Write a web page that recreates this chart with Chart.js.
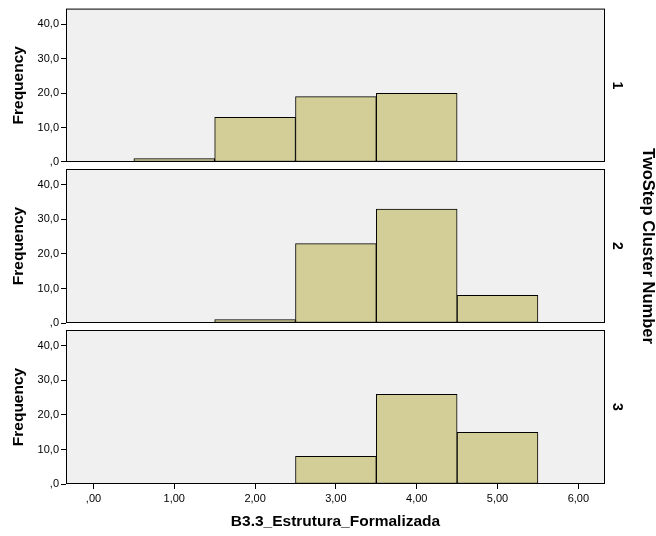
<!DOCTYPE html>
<html>
<head>
<meta charset="utf-8">
<script src="https://cdn.jsdelivr.net/npm/chart.js@4/dist/chart.umd.min.js"></script>
<style>
  html, body { margin: 0; padding: 0; background: #ffffff; }
  #wrap { position: relative; width: 656px; height: 536px; }
  #wrap canvas { position: absolute; left: 0; top: 0; }
</style>
</head>
<body>
<div id="wrap">
  <canvas id="p1" width="656" height="536"></canvas>
  <canvas id="p2" width="656" height="536"></canvas>
  <canvas id="p3" width="656" height="536"></canvas>
</div>
<script>
// Histogram bins of B3.3_Estrutura_Formalizada (bin centres, width 1)
const binCenters = [1, 2, 3, 4, 5];
// Frequencies per TwoStep cluster (null = empty bin)
const cluster1 = [1, 13, 19, 20, null];
const cluster2 = [null, 1, 23, 33, 8];
const cluster3 = [null, null, 8, 26, 15];
const clusterLabels = ['1', '2', '3'];
const freqTicks = [0, 10, 20, 30, 40];
const valueTicks = [0, 1, 2, 3, 4, 5, 6];

const FONT = "'Liberation Sans', Arial, Helvetica, sans-serif";
const BAR_FILL = '#d3ce98';
const PLOT_BG = '#f0f0f0';

// Panel geometry
const W = 656, H = 536;
const PANEL_TOPS = [8, 169, 330];
const PANEL_H = 154;
const X_MIN = -0.34, X_MAX = 6.33, Y_MAX = 44.6;

// Comma decimal formatting: 0 -> ",0", 40 -> "40,0"
function commaFmt(v, digits) {
  let s = Number(v).toFixed(digits).replace('.', ',');
  if (s.startsWith('0,')) s = s.slice(1);
  return s;
}

const panelFrame = {
  id: 'panelFrame',
  beforeDraw(chart) {
    const a = chart.chartArea, ctx = chart.ctx;
    ctx.save();
    ctx.fillStyle = PLOT_BG;
    ctx.fillRect(a.left, a.top, a.right - a.left, a.bottom - a.top);
    ctx.restore();
  },
  afterDatasetsDraw(chart) {
    const a = chart.chartArea, ctx = chart.ctx;
    ctx.save();
    ctx.strokeStyle = '#000000';
    ctx.lineWidth = 1;
    ctx.strokeRect(a.left + 0.5, a.top + 0.5, a.right - a.left - 1, a.bottom - a.top - 1);
    ctx.restore();
  }
};

function makePanel(canvasId, counts, idx) {
  const top = PANEL_TOPS[idx];
  const bottom = top + PANEL_H;
  const isLast = idx === 2;
  const isMiddle = idx === 1;
  return new Chart(document.getElementById(canvasId), {
    type: 'bar',
    data: {
      datasets: [{
        data: binCenters.map((x, k) => ({ x: x, y: counts[k] })),
        backgroundColor: BAR_FILL,
        borderColor: '#000000',
        borderWidth: 1,
        borderSkipped: false,
        barPercentage: 1,
        categoryPercentage: 1
      }]
    },
    options: {
      responsive: false,
      animation: false,
      devicePixelRatio: 1,
      events: [],
      layout: { padding: { top: top, bottom: isLast ? 0 : H - bottom, left: 0, right: 0 } },
      plugins: { legend: { display: false }, tooltip: { enabled: false } },
      scales: {
        x: {
          type: 'linear',
          position: 'bottom',
          min: X_MIN,
          max: X_MAX,
          offset: false,
          display: isLast,
          afterBuildTicks: s => { s.ticks = valueTicks.map(v => ({ value: v })); },
          afterFit: s => { s.height = isLast ? 52 : 0; },
          grid: { offset: false, drawOnChartArea: false, drawTicks: true, tickLength: 5, color: '#000000', lineWidth: 1 },
          border: { display: false },
          ticks: {
            padding: 3,
            color: '#000000',
            maxRotation: 0,
            autoSkip: false,
            font: { family: FONT, size: 11 },
            callback: v => commaFmt(v, 2)
          },
          title: {
            display: true,
            text: 'B3.3_Estrutura_Formalizada',
            color: '#000000',
            font: { family: FONT, size: 15.5, weight: 'bold' },
            padding: { top: 0, bottom: 5 }
          }
        },
        y: {
          type: 'linear',
          position: 'left',
          min: 0,
          max: Y_MAX,
          afterBuildTicks: s => { s.ticks = freqTicks.map(v => ({ value: v })); },
          afterFit: s => { s.width = 66; },
          grid: { drawOnChartArea: false, drawTicks: true, tickLength: 5, color: '#000000', lineWidth: 1 },
          border: { display: false },
          ticks: {
            padding: 2,
            color: '#000000',
            font: { family: FONT, size: 11 },
            callback: v => commaFmt(v, 1)
          },
          title: {
            display: true,
            text: 'Frequency',
            color: '#000000',
            font: { family: FONT, size: 15.5, weight: 'bold', lineHeight: 1 },
            padding: { top: 10.5, bottom: 0 }
          }
        },
        facet: {
          type: 'linear',
          position: 'right',
          weight: 0,
          afterFit: s => { s.width = 24; },
          grid: { display: false, drawTicks: false },
          border: { display: false },
          ticks: { display: false },
          title: {
            display: true,
            text: clusterLabels[idx],
            color: '#000000',
            font: { family: FONT, size: 14, weight: 'bold' },
            padding: { top: 3.6, bottom: 0 }
          }
        },
        outer: {
          type: 'linear',
          position: 'right',
          weight: 1,
          afterFit: s => { s.width = 27; },
          grid: { display: false, drawTicks: false },
          border: { display: false },
          ticks: { display: false },
          title: {
            display: isMiddle,
            text: 'TwoStep Cluster Number',
            color: '#000000',
            font: { family: FONT, size: 16.5, weight: 'bold', lineHeight: 1 },
            padding: { top: 0, bottom: 0 }
          }
        }
      }
    },
    plugins: [panelFrame]
  });
}

makePanel('p1', cluster1, 0);
makePanel('p2', cluster2, 1);
makePanel('p3', cluster3, 2);
</script>
</body>
</html>
